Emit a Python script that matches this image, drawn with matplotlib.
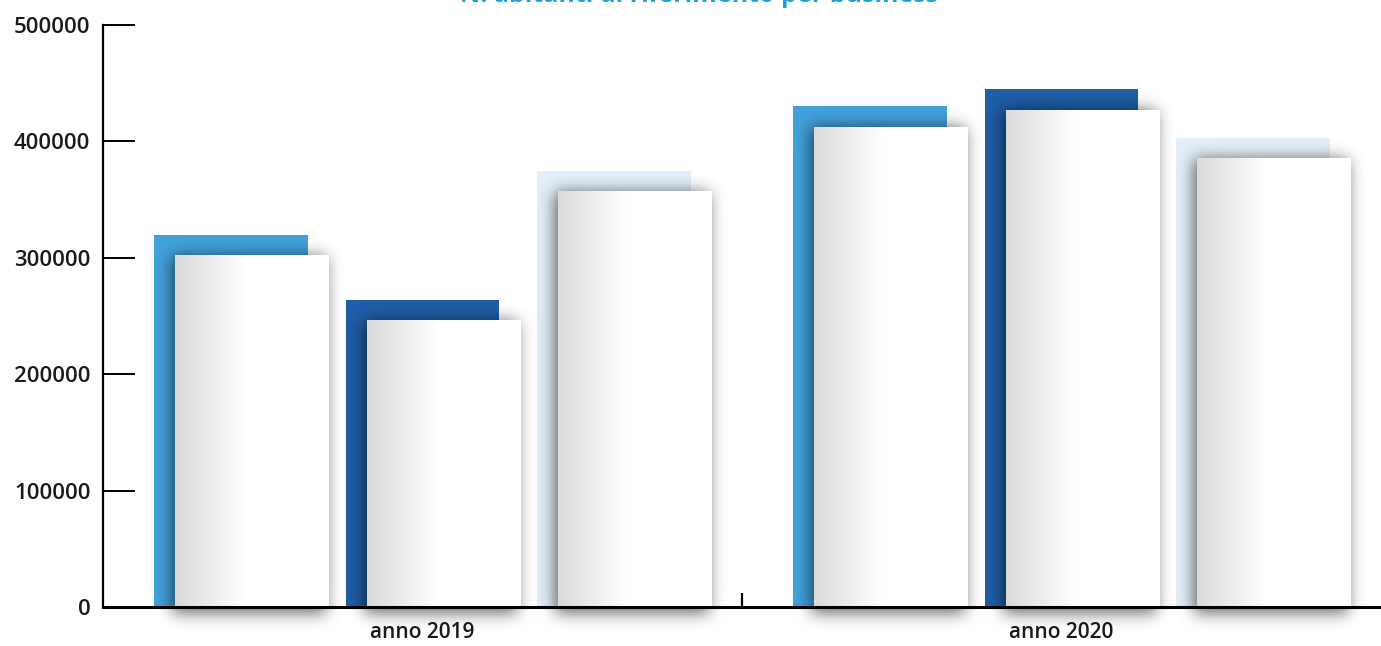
"""
Grafico a barre: N. abitanti di riferimento per business (2019 vs 2020).
Barre colorate sul retro con una barra bianca sfumata spostata in avanti.
"""

import numpy as np
import matplotlib.pyplot as plt
from matplotlib.transforms import ScaledTranslation


# Dati
categories = ['anno 2019', 'anno 2020']
business_a = [320000, 430000]   # azzurro
business_b = [264000, 445000]   # blu scuro
business_c = [375000, 403000]   # celeste chiaro
y_ticks = [0, 100000, 200000, 300000, 400000, 500000]

colors = ['#42a1db', '#1f5ea8', '#e3eef8']
title = 'N. abitanti di riferimento per business'

W, H, DPI = 1381, 646, 100
SHIFT = 21          # spostamento della barra bianca (px)
FONT = 'Open Sans'


def blur_matrix(n, sigma):
    """Matrice di sfocatura gaussiana (separabile)."""
    idx = np.arange(n)
    k = np.exp(-0.5 * ((idx[:, None] - idx[None, :]) / sigma) ** 2)
    return k / k.sum(axis=1, keepdims=True)


fig = plt.figure(figsize=(W / DPI, H / DPI), dpi=DPI)
ax = fig.add_axes([103 / W, (H - 607) / H, (W - 103) / W, (607 - 25) / H])
ax.set_xlim(-0.5, 1.5)
ax.set_ylim(0, 500000)
ax.set_autoscale_on(False)

x = np.arange(len(categories))
offsets = [-0.3, 0.0, 0.3]
width = 0.241
series = [business_a, business_b, business_c]

shift = ScaledTranslation(SHIFT / DPI, -SHIFT / DPI, fig.dpi_scale_trans)
front_trans = ax.transData + shift

# sfumatura orizzontale della barra bianca
t = np.linspace(0, 1, 256)
grad = np.clip(0.855 + 0.145 * t / 0.45, 0, 1)
grad_img = np.dstack([grad, grad, grad]).repeat(2, axis=0)

axis_row = int(round(H - ax.transData.transform((0, 0))[1]))
mask = np.zeros((H, W))
for vals, off, col in zip(series, offsets, colors):
    ax.bar(x + off, vals, width, color=col, zorder=2, linewidth=0)
    whites = ax.bar(x + off, vals, width, color='white', zorder=4,
                    linewidth=0, transform=front_trans)
    for rect in whites:
        x0, x1 = rect.get_x(), rect.get_x() + rect.get_width()
        im = ax.imshow(grad_img, extent=(x0, x1, 0, rect.get_height()),
                       aspect='auto', zorder=4.5, transform=front_trans,
                       interpolation='bilinear')
        im.set_clip_box(ax.bbox)
        # maschera per l'ombra (in pixel), poco sotto l'asse
        (px0, py0), (px1, py1) = front_trans.transform(
            [(x0, 0), (x1, rect.get_height())])
        r0 = int(round(H - py1))
        c0, c1 = int(round(px0)) - 3, int(round(px1)) - 3
        mask[max(r0, 0):axis_row + 6, max(c0, 0):min(c1, W)] = 1

# ombra sfocata sotto le barre bianche
shadow = blur_matrix(H, 8) @ mask @ blur_matrix(W, 8).T
rgba = np.zeros((H, W, 4))
rgba[..., 3] = 0.6 * shadow
inv = ax.transData.inverted()
(ex0, ey0), (ex1, ey1) = inv.transform([(0, 0), (W, H)])
ax.imshow(rgba, extent=(ex0, ex1, ey0, ey1), aspect='auto', zorder=3,
          clip_on=False, interpolation='nearest')
ax.set_xlim(-0.5, 1.5)
ax.set_ylim(0, 500000)

# assi
for side in ['top', 'right']:
    ax.spines[side].set_visible(False)
ax.spines['left'].set_linewidth(1.6)
ax.spines['bottom'].set_linewidth(2.2)
ax.spines['left'].set_zorder(10)
ax.spines['bottom'].set_zorder(10)

ax.set_yticks(y_ticks)
ax.set_yticklabels([str(v) for v in y_ticks], fontfamily=FONT,
                   fontweight='semibold', fontsize=16, color='#1a1a1a')
ax.tick_params(axis='y', direction='in', length=23, width=1.4, pad=9)

ax.set_xticks(x)
ax.set_xticklabels(categories, fontfamily=FONT, fontweight='semibold',
                   fontsize=15, color='#1a1a1a')
ax.tick_params(axis='x', which='major', length=0, pad=11)
ax.set_xticks([0.5], minor=True)
ax.tick_params(axis='x', which='minor', direction='in', length=10, width=1.6)

fig.text(0.506, 1 - 2 / H, title, ha='center', va='baseline',
         fontfamily=FONT, fontweight='bold', fontsize=18, color='#1ea0dc')

fig.savefig('out.png', dpi=DPI)
